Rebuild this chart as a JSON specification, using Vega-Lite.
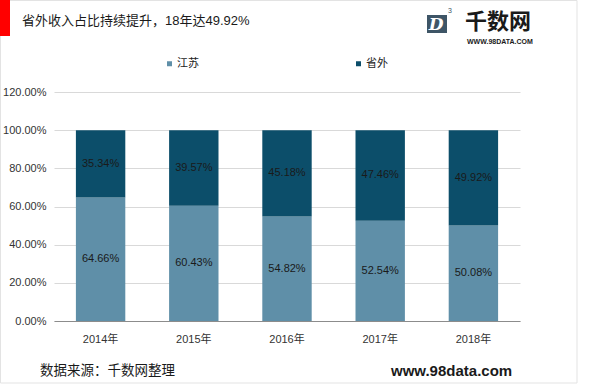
{
  "$schema": "https://vega.github.io/schema/vega-lite/v6.json",
  "width": 466,
  "height": 229,
  "autosize": {"type": "none"},
  "padding": {"left": 54, "top": 92, "right": 80, "bottom": 64},
  "background": "white",
  "config": {
    "view": {"stroke": null},
    "font": "Liberation Sans, Noto Sans CJK SC",
    "text": {"font": "Liberation Sans, Noto Sans CJK SC"}
  },
  "datasets": {
    "main": [
      {"年份": "2014年", "地区": "江苏", "占比": 0.6466},
      {"年份": "2014年", "地区": "省外", "占比": 0.3534},
      {"年份": "2015年", "地区": "江苏", "占比": 0.6043},
      {"年份": "2015年", "地区": "省外", "占比": 0.3957},
      {"年份": "2016年", "地区": "江苏", "占比": 0.5482},
      {"年份": "2016年", "地区": "省外", "占比": 0.4518},
      {"年份": "2017年", "地区": "江苏", "占比": 0.5254},
      {"年份": "2017年", "地区": "省外", "占比": 0.4746},
      {"年份": "2018年", "地区": "江苏", "占比": 0.5008},
      {"年份": "2018年", "地区": "省外", "占比": 0.4992}
    ]
  },
  "layer": [
    {
      "data": {"name": "main"},
      "mark": {"type": "bar"},
      "encoding": {
        "x": {
          "field": "年份", "type": "nominal", "sort": null,
          "scale": {"paddingInner": 0.47, "paddingOuter": 0.235},
          "axis": {"title": null, "labelAngle": 0, "labelFontSize": 11, "labelColor": "#333333", "labelPadding": 12, "ticks": false, "domainColor": "#8c8c8c", "domainWidth": 1, "grid": false}
        },
        "y": {
          "field": "占比", "type": "quantitative", "stack": "zero",
          "scale": {"domain": [0, 1.2], "nice": false},
          "axis": {"title": null, "format": ".2%", "values": [0, 0.2, 0.4, 0.6, 0.8, 1.0, 1.2], "labelOverlap": false, "labelFontSize": 11, "labelColor": "#333333", "labelPadding": 8, "ticks": false, "domain": false, "gridColor": "#d9d9d9", "gridWidth": 1}
        },
        "color": {
          "field": "地区", "type": "nominal", "sort": ["江苏", "省外"],
          "scale": {"domain": ["江苏", "省外"], "range": ["#5f8fa8", "#0c4e6a"]},
          "legend": {"title": null, "orient": "none", "legendX": 110, "legendY": -34, "direction": "horizontal", "symbolType": "square", "symbolSize": 25, "symbolStrokeWidth": 0, "labelFontSize": 11, "labelColor": "#222222", "labelOffset": 2, "columnPadding": 154, "padding": 0}
        },
        "order": {"field": "地区", "sort": "ascending"}
      }
    },
    {
      "data": {"name": "main"},
      "transform": [
        {"stack": "占比", "groupby": ["年份"], "sort": [{"field": "地区", "order": "ascending"}], "as": ["lo", "hi"]},
        {"calculate": "(datum.lo + datum.hi) / 2", "as": "mid"}
      ],
      "mark": {"type": "text", "fontSize": 11, "color": "#1a1a1a"},
      "encoding": {
        "x": {"field": "年份", "type": "nominal", "sort": null},
        "y": {
          "field": "mid", "type": "quantitative",
          "scale": {"domain": [0, 1.2], "nice": false},
          "axis": {"title": null, "format": ".2%", "values": [0, 0.2, 0.4, 0.6, 0.8, 1.0, 1.2], "labelOverlap": false, "labelFontSize": 11, "labelColor": "#333333", "labelPadding": 8, "ticks": false, "domain": false, "gridColor": "#d9d9d9", "gridWidth": 1}
        },
        "text": {"field": "占比", "type": "quantitative", "format": ".2%"}
      }
    },
    {
      "data": {"values": [{"item": "border"}]},
      "mark": {"type": "rect", "fill": null, "stroke": "#e3e3e3", "strokeWidth": 1},
      "encoding": {
        "x": {"value": -53.5}, "x2": {"value": 523},
        "y": {"value": -91.5}, "y2": {"value": 291}
      }
    },
    {
      "data": {"values": [{"item": "red"}]},
      "mark": {"type": "rect", "fill": "#ff0000"},
      "encoding": {
        "x": {"value": -54}, "x2": {"value": -44},
        "y": {"value": -92}, "y2": {"value": -56}
      }
    },
    {
      "data": {"values": [{"item": "logo"}]},
      "mark": {"type": "rect", "fill": "#3e5566"},
      "encoding": {
        "x": {"value": 373}, "x2": {"value": 393},
        "y": {"value": -77}, "y2": {"value": -59}
      }
    },
    {
      "data": {"values": [
        {"t": "省外收入占比持续提升，18年达49.92%", "k": "title"}
      ]},
      "mark": {"type": "text", "align": "left", "baseline": "middle", "fontSize": 13, "color": "#1a1a1a"},
      "encoding": {"x": {"value": -32}, "y": {"value": -71}, "text": {"field": "t"}}
    },
    {
      "data": {"values": [{"t": "D", "k": "logoD"}]},
      "mark": {"type": "text", "align": "center", "baseline": "middle", "fontSize": 17, "fontWeight": "bold", "fontStyle": "italic", "color": "white", "font": "DejaVu Serif"},
      "encoding": {"x": {"value": 382}, "y": {"value": -67}, "text": {"field": "t"}}
    },
    {
      "data": {"values": [{"t": "3", "k": "logo3"}]},
      "mark": {"type": "text", "align": "left", "baseline": "middle", "fontSize": 7, "color": "#3e5566"},
      "encoding": {"x": {"value": 394}, "y": {"value": -81}, "text": {"field": "t"}}
    },
    {
      "data": {"values": [{"t": "千数网", "k": "logoName"}]},
      "mark": {"type": "text", "align": "left", "baseline": "middle", "fontSize": 22, "fontWeight": "bold", "color": "#1a1a1a", "font": "Noto Sans CJK SC"},
      "encoding": {"x": {"value": 411}, "y": {"value": -70}, "text": {"field": "t"}}
    },
    {
      "data": {"values": [{"t": "WWW.98DATA.COM", "k": "logoUrl"}]},
      "mark": {"type": "text", "align": "left", "baseline": "middle", "fontSize": 7, "fontWeight": "bold", "color": "#1a1a1a"},
      "encoding": {"x": {"value": 413}, "y": {"value": -50}, "text": {"field": "t"}}
    },
    {
      "data": {"values": [{"t": "数据来源：千数网整理", "k": "source"}]},
      "mark": {"type": "text", "align": "left", "baseline": "middle", "fontSize": 13.5, "color": "#1a1a1a"},
      "encoding": {"x": {"value": -14}, "y": {"value": 279}, "text": {"field": "t"}}
    },
    {
      "data": {"values": [{"t": "www.98data.com", "k": "site"}]},
      "mark": {"type": "text", "align": "left", "baseline": "middle", "fontSize": 15, "fontWeight": "bold", "color": "#1a1a1a"},
      "encoding": {"x": {"value": 337}, "y": {"value": 279}, "text": {"field": "t"}}
    }
  ]
}
